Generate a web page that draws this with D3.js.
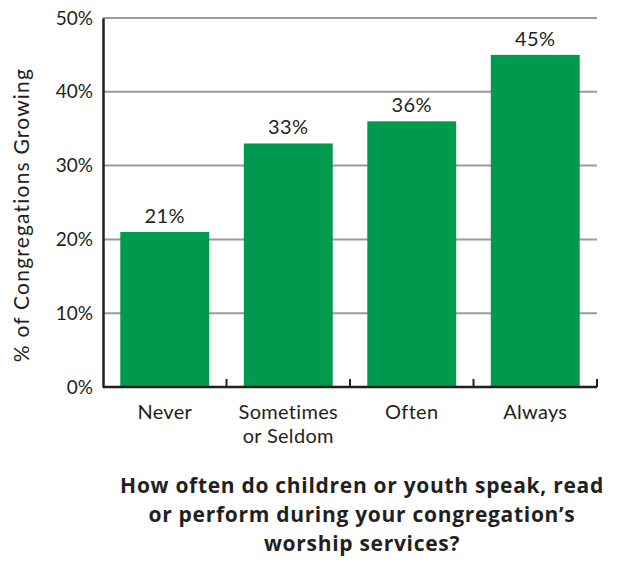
<!DOCTYPE html>
<html>
<head>
<meta charset="utf-8">
<script src="https://cdn.jsdelivr.net/npm/d3@7"></script>
<style>
  body { margin: 0; background: #fff; }
  text { font-family: "Lato", "Open Sans", sans-serif; fill: #231f20; }
  text.title { font-family: "Open Sans", sans-serif; font-weight: bold; }
</style>
</head>
<body>
<svg id="chart" width="634" height="567"></svg>
<script>
const categories = [["Never"], ["Sometimes", "or Seldom"], ["Often"], ["Always"]];
const values = [21, 33, 36, 45];
const yTicks = [0, 10, 20, 30, 40, 50];
const yTitle = "% of Congregations Growing";
const titleLines = [
  "How often do children or youth speak, read",
  "or perform during your congregation\u2019s",
  "worship services?"
];

const svg = d3.select('#chart');
const margin = { top: 18, right: 37, bottom: 180, left: 103 };
const width = 634 - margin.left - margin.right;
const height = 567 - margin.top - margin.bottom;

const g = svg.append('g')
  .attr('transform', `translate(${margin.left},${margin.top})`);

const x = d3.scaleBand()
  .domain(d3.range(categories.length))
  .range([0, width])
  .paddingInner(0.28)
  .paddingOuter(0.14);

const y = d3.scaleLinear().domain([0, 50]).range([height, 0]);

// gridlines
g.append('g')
  .selectAll('line')
  .data(yTicks.filter(d => d > 0))
  .join('line')
  .attr('x1', 0)
  .attr('x2', width)
  .attr('y1', d => y(d))
  .attr('y2', d => y(d))
  .attr('stroke', '#9a9a9a')
  .attr('stroke-width', 2);

// bars
g.append('g')
  .selectAll('rect')
  .data(values)
  .join('rect')
  .attr('x', (d, i) => x(i))
  .attr('y', d => y(d))
  .attr('width', x.bandwidth())
  .attr('height', d => height - y(d))
  .attr('fill', '#009a4e');

// value labels
g.append('g')
  .selectAll('text')
  .data(values)
  .join('text')
  .attr('x', (d, i) => x(i) + x.bandwidth() / 2)
  .attr('y', d => y(d) - 9)
  .attr('text-anchor', 'middle')
  .attr('font-size', 20)
  .attr('letter-spacing', 0.5)
  .text(d => d + '%');

// y axis
const yAxis = g.append('g')
  .call(d3.axisLeft(y).tickValues(yTicks).tickSize(0).tickPadding(10).tickFormat(d => d + '%'));
yAxis.select('.domain').attr('stroke', '#231f20').attr('stroke-width', 2.5);
yAxis.selectAll('text').attr('font-size', 19).attr('fill', '#231f20');

// x axis baseline with upward ticks at band edges
const step = x.step();
const xAxis = g.append('g').attr('transform', `translate(0,${height})`);
xAxis.append('line')
  .attr('x1', 0).attr('x2', width)
  .attr('stroke', '#231f20').attr('stroke-width', 2.5);
xAxis.selectAll('line.tick')
  .data(d3.range(1, categories.length + 1))
  .join('line')
  .attr('class', 'tick')
  .attr('x1', d => d * step).attr('x2', d => d * step)
  .attr('y1', 0).attr('y2', -8)
  .attr('stroke', '#231f20').attr('stroke-width', 2);

const catLabels = xAxis.selectAll('text')
  .data(categories)
  .join('text')
  .attr('text-anchor', 'middle')
  .attr('font-size', 20)
  .attr('letter-spacing', 0.3)
  .attr('transform', (d, i) => `translate(${x(i) + x.bandwidth() / 2},32)`);
catLabels.selectAll('tspan')
  .data(d => d)
  .join('tspan')
  .attr('x', 0)
  .attr('dy', (d, i) => i === 0 ? 0 : 24)
  .text(d => d);

// y title
svg.append('text')
  .attr('transform', `translate(29,${215}) rotate(-90)`)
  .attr('text-anchor', 'middle')
  .attr('font-size', 21)
  .attr('letter-spacing', 1.2)
  .text(yTitle);

// bottom title
svg.append('text')
  .attr('class', 'title')
  .attr('text-anchor', 'middle')
  .attr('font-size', 21)
  .attr('letter-spacing', 0.7)
  .selectAll('tspan')
  .data(titleLines)
  .join('tspan')
  .attr('x', 362)
  .attr('y', (d, i) => 493 + i * 29)
  .text(d => d);
</script>
</body>
</html>
